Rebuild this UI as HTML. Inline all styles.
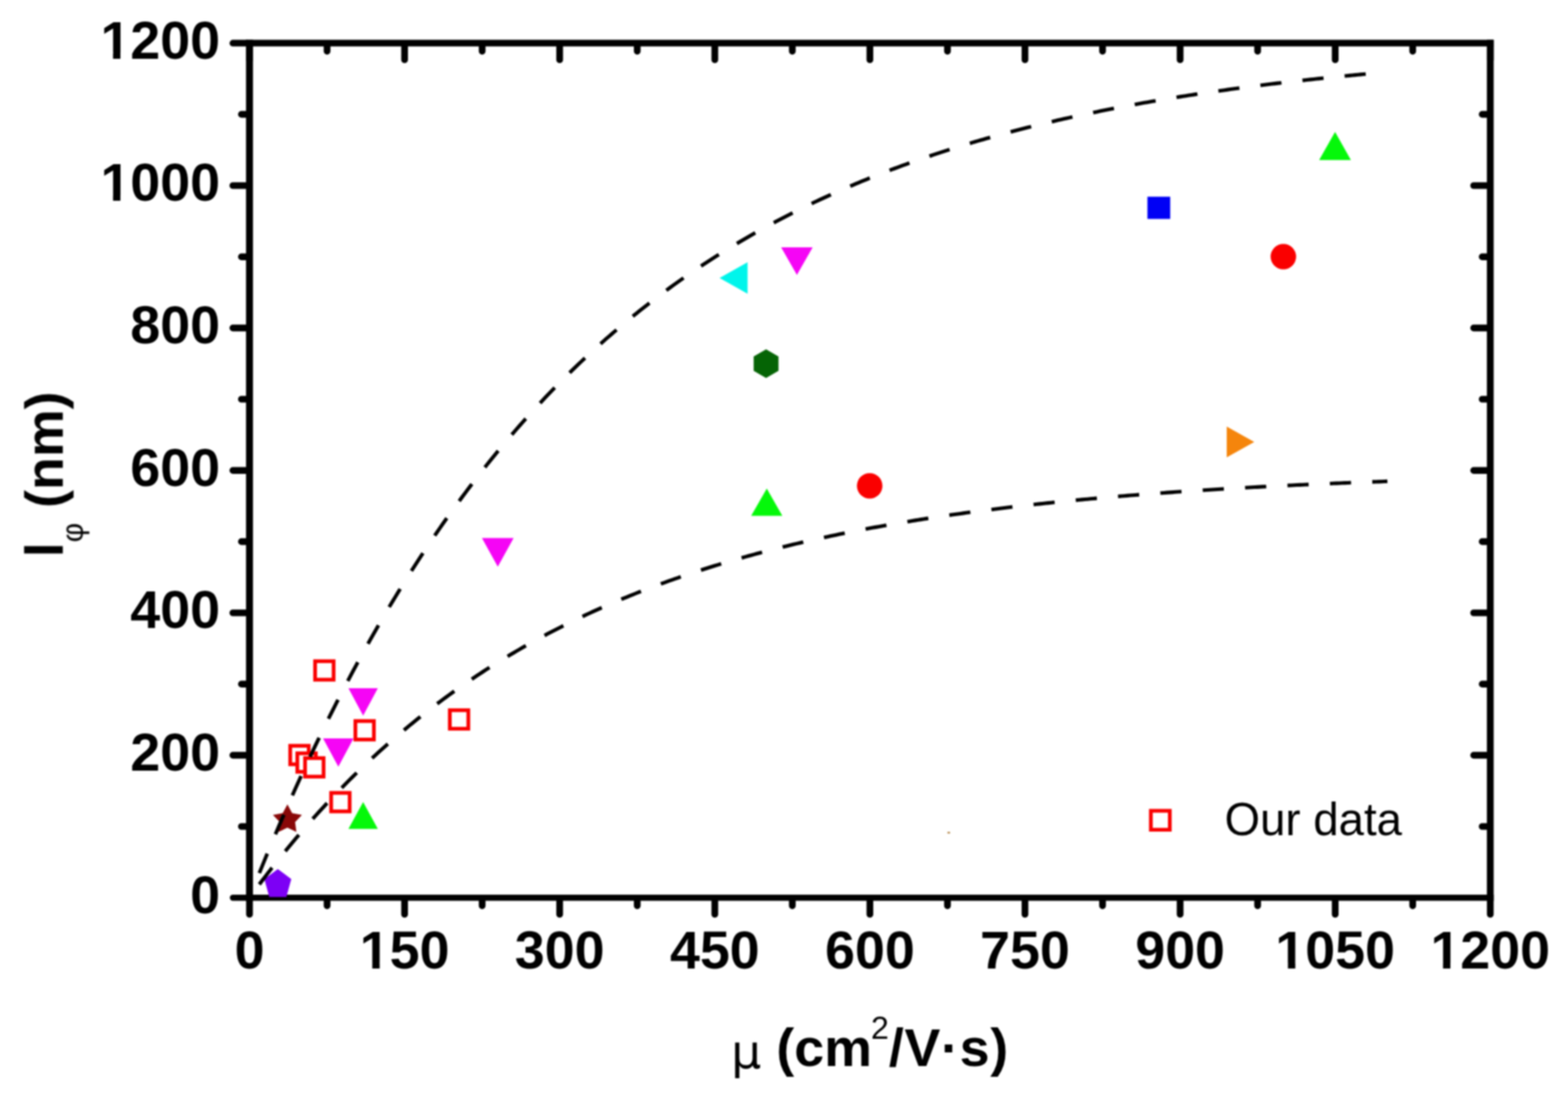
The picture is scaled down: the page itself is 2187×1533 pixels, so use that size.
<!DOCTYPE html><html><head><meta charset="utf-8"><title>l_phi vs mobility</title><style>html,body{margin:0;padding:0;background:#fff;width:2187px;height:1533px;overflow:hidden}svg{display:block}text{font-family:"Liberation Sans",Arial,sans-serif}</style></head><body>
<svg width="2187" height="1533" viewBox="0 0 2187 1533">
<defs><filter id="soft" x="0" y="0" width="2187" height="1533" filterUnits="userSpaceOnUse" color-interpolation-filters="sRGB"><feGaussianBlur stdDeviation="1"/></filter></defs>
<rect width="2187" height="1533" fill="#fff"/>
<g filter="url(#soft)">
<g stroke="#000" fill="none">
<path d="M348.00,55.60 V1256.40" stroke-width="9.7"/>
<path d="M2078.60,55.60 V1256.40" stroke-width="9.5"/>
<path d="M343.15,60.20 H2083.35" stroke-width="9.2"/>
<path d="M343.15,1252.20 H2083.35" stroke-width="8.4"/>
</g>
<path d="M348.0,1256.9 V1275.4 M348.0,64.9 V83.4 M456.2,1256.9 V1263.5 M456.2,64.9 V71.5 M564.3,1256.9 V1275.4 M564.3,64.9 V83.4 M672.5,1256.9 V1263.5 M672.5,64.9 V71.5 M780.6,1256.9 V1275.4 M780.6,64.9 V83.4 M888.8,1256.9 V1263.5 M888.8,64.9 V71.5 M997.0,1256.9 V1275.4 M997.0,64.9 V83.4 M1105.1,1256.9 V1263.5 M1105.1,64.9 V71.5 M1213.3,1256.9 V1275.4 M1213.3,64.9 V83.4 M1321.5,1256.9 V1263.5 M1321.5,64.9 V71.5 M1429.6,1256.9 V1275.4 M1429.6,64.9 V83.4 M1537.8,1256.9 V1263.5 M1537.8,64.9 V71.5 M1646.0,1256.9 V1275.4 M1646.0,64.9 V83.4 M1754.1,1256.9 V1263.5 M1754.1,64.9 V71.5 M1862.3,1256.9 V1275.4 M1862.3,64.9 V83.4 M1970.4,1256.9 V1263.5 M1970.4,64.9 V71.5 M2078.6,1256.9 V1275.4 M2078.6,64.9 V83.4 M343.3,1152.9 H336.7 M2073.9,1152.9 H2067.3 M343.3,1053.5 H324.8 M2073.9,1053.5 H2055.4 M343.3,954.2 H336.7 M2073.9,954.2 H2067.3 M343.3,854.9 H324.8 M2073.9,854.9 H2055.4 M343.3,755.5 H336.7 M2073.9,755.5 H2067.3 M343.3,656.2 H324.8 M2073.9,656.2 H2055.4 M343.3,556.9 H336.7 M2073.9,556.9 H2067.3 M343.3,457.5 H324.8 M2073.9,457.5 H2055.4 M343.3,358.2 H336.7 M2073.9,358.2 H2067.3 M343.3,258.9 H324.8 M2073.9,258.9 H2055.4 M343.3,159.5 H336.7 M2073.9,159.5 H2067.3" stroke="#000" stroke-width="9.4" stroke-linecap="round" fill="none"/>
<path d="M343.8,1252.2 H324.8" stroke="#000" stroke-width="8.4" stroke-linecap="round" fill="none"/>
<path d="M343.4,60.2 H324.8" stroke="#000" stroke-width="9.2" stroke-linecap="round" fill="none"/>
<g>
<polygon points="486.0,960.0 527.0,960.0 506.5,998.3" fill="#f505f5"/>
<polygon points="450.6,1030.1 493.1,1030.1 471.9,1069.4" fill="#f505f5"/>
<polygon points="672.2,750.5 716.4,750.5 694.3,790.5" fill="#f505f5"/>
<polygon points="1089.5,345.1 1133.5,345.1 1111.5,383.5" fill="#f505f5"/>
<polygon points="506.5,1118.7 527.0,1156.3 486.0,1156.3" fill="#05f80a"/>
<polygon points="1069.5,681.4 1091.2,719.4 1047.7,719.4" fill="#05f80a"/>
<polygon points="1862.1,184.1 1884.2,223.2 1839.9,223.2" fill="#05f80a"/>
<polygon points="1003.6,387.8 1042.7,365.7 1042.7,409.8" fill="#00f5eb"/>
<polygon points="1711.0,594.9 1749.4,616.4 1711.0,637.9" fill="#f5850c"/>
<circle cx="1213" cy="677.7" r="17.8" fill="#fa0000"/>
<circle cx="1790" cy="358" r="17.8" fill="#fa0000"/>
<rect x="1600.4" y="274.4" width="31.8" height="31.0" fill="#0000f5"/>
<polygon points="1068.5,487.3 1085.8,497.3 1085.8,517.3 1068.5,527.3 1051.2,517.3 1051.2,497.3" fill="#056405"/>
<polygon points="400.9,1122.1 407.5,1134.2 421.1,1136.7 411.6,1146.8 413.4,1160.5 400.9,1154.6 388.4,1160.5 390.2,1146.8 380.7,1136.7 394.3,1134.2" fill="#890808"/>
<polygon points="387.5,1212.2 406.3,1226.2 399.4,1251.3 375.6,1251.3 368.7,1226.2" fill="#7d00f5"/>
<rect x="439.5" y="922.3" width="25.8" height="25.8" fill="#fff" stroke="#fa0000" stroke-width="5.2"/>
<rect x="627.4" y="990.7" width="25.8" height="25.8" fill="#fff" stroke="#fa0000" stroke-width="5.2"/>
<rect x="495.7" y="1005.8" width="25.8" height="25.8" fill="#fff" stroke="#fa0000" stroke-width="5.2"/>
<rect x="404.8" y="1040.3" width="25.8" height="25.8" fill="#fff" stroke="#fa0000" stroke-width="5.2"/>
<rect x="414.7" y="1050.8" width="25.8" height="25.8" fill="#fff" stroke="#fa0000" stroke-width="5.2"/>
<rect x="425.5" y="1057.5" width="25.8" height="25.8" fill="#fff" stroke="#fa0000" stroke-width="5.2"/>
<rect x="461.9" y="1106.0" width="25.8" height="25.8" fill="#fff" stroke="#fa0000" stroke-width="5.2"/>
</g>
<g fill="none" stroke="#000" stroke-width="5.1" stroke-dasharray="29.6 29.5" stroke-dashoffset="0.4">
<path d="M361.70,1217.86 L365.57,1208.34 L369.44,1198.90 L373.31,1189.54 L377.18,1180.26 L381.05,1171.05 L384.92,1161.92 L388.79,1152.86 L392.65,1143.88 L396.52,1134.97 L400.39,1126.13 L404.26,1117.37 L408.13,1108.68 L412.00,1100.06 L415.87,1091.51 L419.74,1083.03 L423.61,1074.62 L427.48,1066.28 L431.35,1058.01 L435.22,1049.81 L439.09,1041.67 L442.96,1033.60 L446.82,1025.60 L450.69,1017.66 L454.56,1009.79 L458.43,1001.98 L462.30,994.24 L466.17,986.56 L470.04,978.95 L473.91,971.39 L477.78,963.90 L481.65,956.47 L485.52,949.10 L489.39,941.80 L493.26,934.55 L497.13,927.36 L500.99,920.23 L504.86,913.16 L508.73,906.15 L512.60,899.19 L516.47,892.30 L520.34,885.45 L524.21,878.67 L528.08,871.94 L531.95,865.27 L535.82,858.65 L539.69,852.08 L543.56,845.57 L547.43,839.12 L551.29,832.71 L555.16,826.36 L559.03,820.06 L562.90,813.82 L566.77,807.62 L570.64,801.48 L574.51,795.38 L578.38,789.34 L582.25,783.34 L586.12,777.40 L589.99,771.50 L593.86,765.65 L597.73,759.85 L601.60,754.10 L605.46,748.40 L609.33,742.74 L613.20,737.13 L617.07,731.56 L620.94,726.04 L624.81,720.57 L628.68,715.14 L632.55,709.76 L636.42,704.42 L640.29,699.12 L644.16,693.87 L648.03,688.66 L651.90,683.49 L655.77,678.37 L659.63,673.28 L663.50,668.24 L667.37,663.25 L671.24,658.29 L675.11,653.37 L678.98,648.49 L682.85,643.66 L686.72,638.86 L690.59,634.10 L694.46,629.38 L698.33,624.71 L702.20,620.06 L706.07,615.46 L709.94,610.90 L713.80,606.37 L717.67,601.88 L721.54,597.43 L725.41,593.01 L729.28,588.63 L733.15,584.28 L737.02,579.98 L740.89,575.70 L744.76,571.46 L748.63,567.26 L752.50,563.09 L756.37,558.96 L760.24,554.86 L764.10,550.79 L767.97,546.76 L771.84,542.76 L775.71,538.79 L779.58,534.86 L783.45,530.95 L787.32,527.08 L791.19,523.24 L795.06,519.44 L798.93,515.66 L802.80,511.92 L806.67,508.20 L810.54,504.52 L814.41,500.87 L818.27,497.25 L822.14,493.65 L826.01,490.09 L829.88,486.55 L833.75,483.05 L837.62,479.57 L841.49,476.13 L845.36,472.71 L849.23,469.31 L853.10,465.95 L856.97,462.62 L860.84,459.31 L864.71,456.03 L868.58,452.77 L872.44,449.54 L876.31,446.34 L880.18,443.17 L884.05,440.02 L887.92,436.90 L891.79,433.80 L895.66,430.73 L899.53,427.68 L903.40,424.66 L907.27,421.67 L911.14,418.69 L915.01,415.75 L918.88,412.82 L922.74,409.92 L926.61,407.05 L930.48,404.20 L934.35,401.37 L938.22,398.56 L942.09,395.78 L945.96,393.02 L949.83,390.29 L953.70,387.57 L957.57,384.88 L961.44,382.21 L965.31,379.57 L969.18,376.94 L973.05,374.34 L976.91,371.75 L980.78,369.19 L984.65,366.65 L988.52,364.13 L992.39,361.63 L996.26,359.16 L1000.13,356.70 L1004.00,354.26 L1007.87,351.84 L1011.74,349.45 L1015.61,347.07 L1019.48,344.71 L1023.35,342.37 L1027.22,340.05 L1031.08,337.75 L1034.95,335.47 L1038.82,333.20 L1042.69,330.96 L1046.56,328.73 L1050.43,326.53 L1054.30,324.34 L1058.17,322.17 L1062.04,320.01 L1065.91,317.88 L1069.78,315.76 L1073.65,313.66 L1077.52,311.57 L1081.39,309.51 L1085.25,307.46 L1089.12,305.42 L1092.99,303.41 L1096.86,301.41 L1100.73,299.42 L1104.60,297.46 L1108.47,295.51 L1112.34,293.57 L1116.21,291.65 L1120.08,289.75 L1123.95,287.86 L1127.82,285.99 L1131.69,284.14 L1135.55,282.30 L1139.42,280.47 L1143.29,278.66 L1147.16,276.86 L1151.03,275.08 L1154.90,273.31 L1158.77,271.56 L1162.64,269.82 L1166.51,268.10 L1170.38,266.39 L1174.25,264.70 L1178.12,263.02 L1181.99,261.35 L1185.86,259.69 L1189.72,258.05 L1193.59,256.43 L1197.46,254.81 L1201.33,253.21 L1205.20,251.63 L1209.07,250.05 L1212.94,248.49 L1216.81,246.95 L1220.68,245.41 L1224.55,243.89 L1228.42,242.38 L1232.29,240.88 L1236.16,239.39 L1240.03,237.92 L1243.89,236.46 L1247.76,235.01 L1251.63,233.57 L1255.50,232.15 L1259.37,230.73 L1263.24,229.33 L1267.11,227.94 L1270.98,226.56 L1274.85,225.20 L1278.72,223.84 L1282.59,222.49 L1286.46,221.16 L1290.33,219.84 L1294.20,218.52 L1298.06,217.22 L1301.93,215.93 L1305.80,214.65 L1309.67,213.38 L1313.54,212.12 L1317.41,210.87 L1321.28,209.63 L1325.15,208.41 L1329.02,207.19 L1332.89,205.98 L1336.76,204.78 L1340.63,203.59 L1344.50,202.41 L1348.36,201.24 L1352.23,200.08 L1356.10,198.93 L1359.97,197.79 L1363.84,196.66 L1367.71,195.54 L1371.58,194.43 L1375.45,193.32 L1379.32,192.23 L1383.19,191.14 L1387.06,190.07 L1390.93,189.00 L1394.80,187.94 L1398.67,186.89 L1402.53,185.85 L1406.40,184.82 L1410.27,183.79 L1414.14,182.78 L1418.01,181.77 L1421.88,180.77 L1425.75,179.78 L1429.62,178.79 L1433.49,177.82 L1437.36,176.85 L1441.23,175.89 L1445.10,174.94 L1448.97,174.00 L1452.84,173.06 L1456.70,172.14 L1460.57,171.21 L1464.44,170.30 L1468.31,169.40 L1472.18,168.50 L1476.05,167.61 L1479.92,166.73 L1483.79,165.85 L1487.66,164.98 L1491.53,164.12 L1495.40,163.27 L1499.27,162.42 L1503.14,161.58 L1507.01,160.74 L1510.87,159.92 L1514.74,159.10 L1518.61,158.29 L1522.48,157.48 L1526.35,156.68 L1530.22,155.89 L1534.09,155.10 L1537.96,154.32 L1541.83,153.55 L1545.70,152.78 L1549.57,152.02 L1553.44,151.26 L1557.31,150.51 L1561.17,149.77 L1565.04,149.03 L1568.91,148.30 L1572.78,147.58 L1576.65,146.86 L1580.52,146.15 L1584.39,145.44 L1588.26,144.74 L1592.13,144.05 L1596.00,143.36 L1599.87,142.67 L1603.74,142.00 L1607.61,141.32 L1611.48,140.66 L1615.34,139.99 L1619.21,139.34 L1623.08,138.69 L1626.95,138.04 L1630.82,137.40 L1634.69,136.77 L1638.56,136.14 L1642.43,135.51 L1646.30,134.89 L1650.17,134.28 L1654.04,133.67 L1657.91,133.07 L1661.78,132.47 L1665.65,131.87 L1669.51,131.29 L1673.38,130.70 L1677.25,130.12 L1681.12,129.55 L1684.99,128.98 L1688.86,128.41 L1692.73,127.85 L1696.60,127.29 L1700.47,126.74 L1704.34,126.20 L1708.21,125.65 L1712.08,125.11 L1715.95,124.58 L1719.81,124.05 L1723.68,123.53 L1727.55,123.01 L1731.42,122.49 L1735.29,121.98 L1739.16,121.47 L1743.03,120.97 L1746.90,120.47 L1750.77,119.97 L1754.64,119.48 L1758.51,118.99 L1762.38,118.51 L1766.25,118.03 L1770.12,117.55 L1773.98,117.08 L1777.85,116.61 L1781.72,116.15 L1785.59,115.69 L1789.46,115.23 L1793.33,114.78 L1797.20,114.33 L1801.07,113.89 L1804.94,113.45 L1808.81,113.01 L1812.68,112.58 L1816.55,112.14 L1820.42,111.72 L1824.29,111.29 L1828.15,110.87 L1832.02,110.46 L1835.89,110.04 L1839.76,109.63 L1843.63,109.23 L1847.50,108.83 L1851.37,108.43 L1855.24,108.03 L1859.11,107.64 L1862.98,107.25 L1866.85,106.86 L1870.72,106.48 L1874.59,106.09 L1878.46,105.72 L1882.32,105.34 L1886.19,104.97 L1890.06,104.60 L1893.93,104.24 L1897.80,103.88 L1901.67,103.52 L1905.54,103.16"/>
<path d="M361.70,1233.62 L365.64,1228.38 L369.59,1223.19 L373.53,1218.05 L377.47,1212.95 L381.42,1207.90 L385.36,1202.89 L389.30,1197.93 L393.25,1193.02 L397.19,1188.15 L401.13,1183.32 L405.08,1178.54 L409.02,1173.80 L412.96,1169.10 L416.91,1164.45 L420.85,1159.84 L424.79,1155.27 L428.74,1150.74 L432.68,1146.25 L436.62,1141.81 L440.57,1137.40 L444.51,1133.03 L448.45,1128.71 L452.40,1124.42 L456.34,1120.17 L460.28,1115.96 L464.23,1111.79 L468.17,1107.66 L472.11,1103.56 L476.06,1099.50 L480.00,1095.48 L483.94,1091.50 L487.89,1087.55 L491.83,1083.63 L495.78,1079.75 L499.72,1075.91 L503.66,1072.10 L507.61,1068.33 L511.55,1064.59 L515.49,1060.89 L519.44,1057.21 L523.38,1053.58 L527.32,1049.97 L531.27,1046.40 L535.21,1042.86 L539.15,1039.35 L543.10,1035.87 L547.04,1032.43 L550.98,1029.01 L554.93,1025.63 L558.87,1022.28 L562.81,1018.96 L566.76,1015.67 L570.70,1012.41 L574.64,1009.17 L578.59,1005.97 L582.53,1002.80 L586.47,999.65 L590.42,996.54 L594.36,993.45 L598.30,990.39 L602.25,987.36 L606.19,984.35 L610.13,981.37 L614.08,978.42 L618.02,975.50 L621.96,972.60 L625.91,969.73 L629.85,966.89 L633.79,964.07 L637.74,961.28 L641.68,958.51 L645.62,955.77 L649.57,953.05 L653.51,950.35 L657.45,947.69 L661.40,945.04 L665.34,942.42 L669.28,939.82 L673.23,937.25 L677.17,934.70 L681.11,932.17 L685.06,929.67 L689.00,927.19 L692.94,924.73 L696.89,922.29 L700.83,919.88 L704.77,917.49 L708.72,915.12 L712.66,912.77 L716.60,910.44 L720.55,908.13 L724.49,905.85 L728.43,903.58 L732.38,901.34 L736.32,899.11 L740.26,896.91 L744.21,894.72 L748.15,892.56 L752.09,890.42 L756.04,888.29 L759.98,886.19 L763.92,884.10 L767.87,882.03 L771.81,879.98 L775.75,877.95 L779.70,875.94 L783.64,873.95 L787.58,871.97 L791.53,870.01 L795.47,868.07 L799.41,866.15 L803.36,864.25 L807.30,862.36 L811.24,860.49 L815.19,858.63 L819.13,856.80 L823.07,854.98 L827.02,853.17 L830.96,851.39 L834.90,849.62 L838.85,847.86 L842.79,846.12 L846.73,844.40 L850.68,842.69 L854.62,841.00 L858.56,839.32 L862.51,837.66 L866.45,836.01 L870.40,834.38 L874.34,832.77 L878.28,831.16 L882.23,829.58 L886.17,828.00 L890.11,826.44 L894.06,824.90 L898.00,823.37 L901.94,821.85 L905.89,820.35 L909.83,818.86 L913.77,817.38 L917.72,815.92 L921.66,814.47 L925.60,813.04 L929.55,811.61 L933.49,810.20 L937.43,808.81 L941.38,807.42 L945.32,806.05 L949.26,804.69 L953.21,803.34 L957.15,802.01 L961.09,800.69 L965.04,799.37 L968.98,798.08 L972.92,796.79 L976.87,795.51 L980.81,794.25 L984.75,793.00 L988.70,791.75 L992.64,790.52 L996.58,789.31 L1000.53,788.10 L1004.47,786.90 L1008.41,785.72 L1012.36,784.54 L1016.30,783.38 L1020.24,782.22 L1024.19,781.08 L1028.13,779.95 L1032.07,778.82 L1036.02,777.71 L1039.96,776.61 L1043.90,775.52 L1047.85,774.43 L1051.79,773.36 L1055.73,772.30 L1059.68,771.24 L1063.62,770.20 L1067.56,769.17 L1071.51,768.14 L1075.45,767.13 L1079.39,766.12 L1083.34,765.12 L1087.28,764.13 L1091.22,763.15 L1095.17,762.18 L1099.11,761.22 L1103.05,760.27 L1107.00,759.33 L1110.94,758.39 L1114.88,757.46 L1118.83,756.54 L1122.77,755.63 L1126.71,754.73 L1130.66,753.84 L1134.60,752.95 L1138.54,752.07 L1142.49,751.20 L1146.43,750.34 L1150.37,749.49 L1154.32,748.64 L1158.26,747.80 L1162.20,746.97 L1166.15,746.15 L1170.09,745.33 L1174.03,744.52 L1177.98,743.72 L1181.92,742.93 L1185.86,742.14 L1189.81,741.36 L1193.75,740.59 L1197.69,739.82 L1201.64,739.06 L1205.58,738.31 L1209.52,737.57 L1213.47,736.83 L1217.41,736.10 L1221.35,735.37 L1225.30,734.65 L1229.24,733.94 L1233.18,733.24 L1237.13,732.54 L1241.07,731.84 L1245.02,731.16 L1248.96,730.48 L1252.90,729.80 L1256.85,729.14 L1260.79,728.48 L1264.73,727.82 L1268.68,727.17 L1272.62,726.53 L1276.56,725.89 L1280.51,725.26 L1284.45,724.63 L1288.39,724.01 L1292.34,723.39 L1296.28,722.78 L1300.22,722.18 L1304.17,721.58 L1308.11,720.99 L1312.05,720.40 L1316.00,719.82 L1319.94,719.24 L1323.88,718.67 L1327.83,718.10 L1331.77,717.54 L1335.71,716.98 L1339.66,716.43 L1343.60,715.88 L1347.54,715.34 L1351.49,714.81 L1355.43,714.27 L1359.37,713.75 L1363.32,713.23 L1367.26,712.71 L1371.20,712.20 L1375.15,711.69 L1379.09,711.18 L1383.03,710.69 L1386.98,710.19 L1390.92,709.70 L1394.86,709.22 L1398.81,708.73 L1402.75,708.26 L1406.69,707.79 L1410.64,707.32 L1414.58,706.85 L1418.52,706.39 L1422.47,705.94 L1426.41,705.49 L1430.35,705.04 L1434.30,704.60 L1438.24,704.16 L1442.18,703.72 L1446.13,703.29 L1450.07,702.86 L1454.01,702.44 L1457.96,702.02 L1461.90,701.61 L1465.84,701.19 L1469.79,700.79 L1473.73,700.38 L1477.67,699.98 L1481.62,699.58 L1485.56,699.19 L1489.50,698.80 L1493.45,698.41 L1497.39,698.03 L1501.33,697.65 L1505.28,697.27 L1509.22,696.90 L1513.16,696.53 L1517.11,696.17 L1521.05,695.80 L1524.99,695.44 L1528.94,695.09 L1532.88,694.74 L1536.82,694.39 L1540.77,694.04 L1544.71,693.70 L1548.65,693.36 L1552.60,693.02 L1556.54,692.68 L1560.48,692.35 L1564.43,692.03 L1568.37,691.70 L1572.31,691.38 L1576.26,691.06 L1580.20,690.74 L1584.14,690.43 L1588.09,690.12 L1592.03,689.81 L1595.97,689.51 L1599.92,689.20 L1603.86,688.90 L1607.80,688.61 L1611.75,688.31 L1615.69,688.02 L1619.63,687.73 L1623.58,687.45 L1627.52,687.16 L1631.47,686.88 L1635.41,686.60 L1639.35,686.33 L1643.30,686.06 L1647.24,685.78 L1651.18,685.52 L1655.13,685.25 L1659.07,684.99 L1663.01,684.73 L1666.96,684.47 L1670.90,684.21 L1674.84,683.96 L1678.79,683.70 L1682.73,683.45 L1686.67,683.21 L1690.62,682.96 L1694.56,682.72 L1698.50,682.48 L1702.45,682.24 L1706.39,682.00 L1710.33,681.77 L1714.28,681.54 L1718.22,681.31 L1722.16,681.08 L1726.11,680.85 L1730.05,680.63 L1733.99,680.41 L1737.94,680.19 L1741.88,679.97 L1745.82,679.76 L1749.77,679.54 L1753.71,679.33 L1757.65,679.12 L1761.60,678.91 L1765.54,678.71 L1769.48,678.50 L1773.43,678.30 L1777.37,678.10 L1781.31,677.90 L1785.26,677.70 L1789.20,677.51 L1793.14,677.32 L1797.09,677.12 L1801.03,676.93 L1804.97,676.75 L1808.92,676.56 L1812.86,676.38 L1816.80,676.19 L1820.75,676.01 L1824.69,675.83 L1828.63,675.65 L1832.58,675.48 L1836.52,675.30 L1840.46,675.13 L1844.41,674.96 L1848.35,674.79 L1852.29,674.62 L1856.24,674.45 L1860.18,674.28 L1864.12,674.12 L1868.07,673.96 L1872.01,673.80 L1875.95,673.64 L1879.90,673.48 L1883.84,673.32 L1887.78,673.17 L1891.73,673.01 L1895.67,672.86 L1899.61,672.71 L1903.56,672.56 L1907.50,672.41 L1911.44,672.26 L1915.39,672.12 L1919.33,671.97 L1923.27,671.83 L1927.22,671.69 L1931.16,671.55 L1935.10,671.41" stroke-dasharray="29.6 29.6"/>
</g>
<g font-weight="bold" font-size="75" fill="#000">
<text x="307.0" y="1273.6" text-anchor="end">0</text>
<text x="307.0" y="1074.9" text-anchor="end">200</text>
<text x="307.0" y="876.3" text-anchor="end">400</text>
<text x="307.0" y="677.6" text-anchor="end">600</text>
<text x="307.0" y="478.9" text-anchor="end">800</text>
<text x="307.0" y="280.3" text-anchor="end">1000</text>
<text x="307.0" y="81.6" text-anchor="end">1200</text>
<text x="348.0" y="1351.0" text-anchor="middle">0</text>
<text x="564.3" y="1351.0" text-anchor="middle">150</text>
<text x="780.6" y="1351.0" text-anchor="middle">300</text>
<text x="997.0" y="1351.0" text-anchor="middle">450</text>
<text x="1213.3" y="1351.0" text-anchor="middle">600</text>
<text x="1429.6" y="1351.0" text-anchor="middle">750</text>
<text x="1646.0" y="1351.0" text-anchor="middle">900</text>
<text x="1862.3" y="1351.0" text-anchor="middle">1050</text>
<text x="2078.6" y="1351.0" text-anchor="middle">1200</text>
</g>
<g fill="#fff"><rect x="143.68" y="272.00" width="13.98" height="9.27"/><rect x="167.95" y="272.00" width="13.03" height="9.27"/><rect x="143.68" y="73.00" width="13.98" height="9.60"/><rect x="167.95" y="73.00" width="13.03" height="9.60"/><rect x="505.28" y="1343.00" width="13.98" height="9.00"/><rect x="529.55" y="1343.00" width="13.03" height="9.00"/><rect x="1782.38" y="1343.00" width="13.98" height="9.00"/><rect x="1806.65" y="1343.00" width="13.03" height="9.00"/><rect x="1998.70" y="1343.00" width="13.98" height="9.00"/><rect x="2022.97" y="1343.00" width="13.03" height="9.00"/></g>
<text transform="translate(87.6,777.3) rotate(-90)" font-weight="bold" font-size="75"><tspan x="0" y="0">l</tspan><tspan x="20.8" y="28" font-weight="normal" font-size="42">φ</tspan><tspan x="48" y="0" xml:space="preserve"> (nm)</tspan></text>
<text font-weight="bold" font-size="75"><tspan x="1019.7" y="1490" style="font-family:&quot;DejaVu Sans&quot;,sans-serif" font-weight="normal" font-size="66">μ</tspan><tspan x="1061.9" y="1486.5"> (cm</tspan><tspan x="1214.7" y="1449.4" font-weight="normal" font-size="45">2</tspan><tspan x="1239.7" y="1486.5" letter-spacing="1">/V·s)</tspan></text>
<rect x="1605.2" y="1131.0" width="26.4" height="26.4" fill="none" stroke="#fa0000" stroke-width="5.2"/>
<text x="1708" y="1164.5" font-size="65" textLength="247.5" lengthAdjust="spacingAndGlyphs">Our data</text>
<ellipse cx="1323.3" cy="1161.5" rx="2" ry="1.2" fill="#b08040"/>
</g>
</svg></body></html>
